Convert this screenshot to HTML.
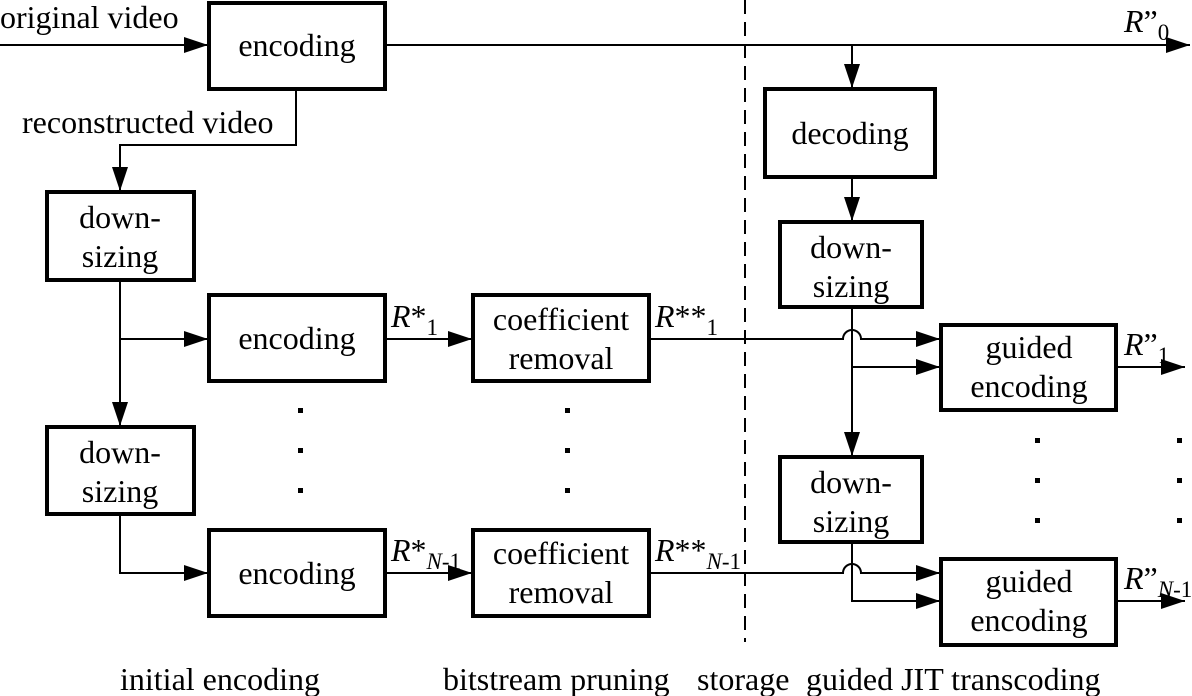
<!DOCTYPE html>
<html><head><meta charset="utf-8"><style>
html,body{margin:0;padding:0;background:#fff;}
svg{display:block;}
text{font-family:"Liberation Serif",serif;font-size:32px;fill:#000;}
.i{font-style:italic;}
.s{font-size:23px;}
</style></head><body>
<svg width="1192" height="696" viewBox="0 0 1192 696" xmlns="http://www.w3.org/2000/svg">
<defs><marker id="a" markerWidth="24" markerHeight="16" refX="24" refY="8" orient="auto" markerUnits="userSpaceOnUse"><path d="M0,0 L24,8 L0,16 Z" fill="#000"/></marker></defs>
<g fill="none" stroke="#000" stroke-width="4">
<rect x="209" y="3" width="176" height="86"/>
<rect x="765" y="89" width="170" height="88"/>
<rect x="780" y="222" width="142" height="85"/>
<rect x="780" y="457" width="142" height="85"/>
<rect x="941" y="325" width="175" height="85"/>
<rect x="941" y="559" width="175" height="86"/>
<rect x="47" y="192" width="147" height="88"/>
<rect x="47" y="427" width="147" height="87"/>
<rect x="209" y="295" width="176" height="86"/>
<rect x="209" y="530" width="176" height="86"/>
<rect x="473" y="295" width="176" height="86"/>
<rect x="473" y="530" width="176" height="86"/>
</g>
<g fill="none" stroke="#000" stroke-width="2">
<line x1="0" y1="45" x2="208" y2="45" marker-end="url(#a)"/>
<line x1="386" y1="45" x2="1190" y2="45" marker-end="url(#a)"/>
<line x1="852" y1="45" x2="852" y2="88" marker-end="url(#a)"/>
<line x1="852" y1="178" x2="852" y2="221" marker-end="url(#a)"/>
<polyline points="296,90 296,145 120,145 120,191" marker-end="url(#a)"/>
<line x1="120" y1="281" x2="120" y2="426" marker-end="url(#a)"/>
<line x1="120" y1="339" x2="208" y2="339" marker-end="url(#a)"/>
<polyline points="120,515 120,573 208,573" marker-end="url(#a)"/>
<line x1="386" y1="339" x2="472" y2="339" marker-end="url(#a)"/>
<line x1="386" y1="573" x2="472" y2="573" marker-end="url(#a)"/>
<path d="M650,339 H843 A9,9 0 0 1 861,339 H940" marker-end="url(#a)"/>
<path d="M650,573 H843 A9,9 0 0 1 861,573 H940" marker-end="url(#a)"/>
<line x1="852" y1="308" x2="852" y2="456" marker-end="url(#a)"/>
<line x1="852" y1="367" x2="940" y2="367" marker-end="url(#a)"/>
<polyline points="852,543 852,601 940,601" marker-end="url(#a)"/>
<line x1="1117" y1="367" x2="1185" y2="367" marker-end="url(#a)"/>
<line x1="1117" y1="601" x2="1185" y2="601" marker-end="url(#a)"/>
<line x1="745" y1="0" x2="745" y2="642" stroke-dasharray="14,8"/>
</g>
<g fill="#000">
<rect x="298" y="408" width="5" height="5"/><rect x="298" y="448" width="5" height="5"/><rect x="298" y="488" width="5" height="5"/>
<rect x="565" y="408" width="5" height="5"/><rect x="565" y="448" width="5" height="5"/><rect x="565" y="488" width="5" height="5"/>
<rect x="1035" y="438" width="5" height="5"/><rect x="1035" y="478" width="5" height="5"/><rect x="1035" y="518" width="5" height="5"/>
<rect x="1177" y="438" width="5" height="5"/><rect x="1177" y="478" width="5" height="5"/><rect x="1177" y="518" width="5" height="5"/>
</g>
<g text-anchor="middle">
<text x="297" y="56">encoding</text>
<text x="850" y="144">decoding</text>
<text x="851" y="258">down-</text><text x="851" y="297">sizing</text>
<text x="851" y="493">down-</text><text x="851" y="532">sizing</text>
<text x="120" y="228">down-</text><text x="120" y="267">sizing</text>
<text x="120" y="463">down-</text><text x="120" y="502">sizing</text>
<text x="297" y="349">encoding</text>
<text x="297" y="584">encoding</text>
<text x="561" y="330">coefficient</text><text x="561" y="369">removal</text>
<text x="561" y="564">coefficient</text><text x="561" y="603">removal</text>
<text x="1029" y="358">guided</text><text x="1029" y="397">encoding</text>
<text x="1029" y="592">guided</text><text x="1029" y="631">encoding</text>
</g>
<text x="0" y="28">original video</text>
<text x="22" y="133">reconstructed video</text>
<text x="120" y="690">initial encoding</text>
<text x="443" y="690">bitstream pruning</text>
<text x="697" y="690">storage</text>
<text x="806" y="690">guided JIT transcoding</text>
<text x="1124" y="32"><tspan class="i">R</tspan>”<tspan class="s" dy="8">0</tspan></text>
<text x="391" y="327"><tspan class="i">R</tspan>*<tspan class="s" dy="8">1</tspan></text>
<text x="391" y="561"><tspan class="i">R</tspan>*<tspan class="s i" dy="8">N</tspan><tspan class="s" >-1</tspan></text>
<text x="655" y="327"><tspan class="i">R</tspan>**<tspan class="s" dy="8">1</tspan></text>
<text x="655" y="561"><tspan class="i">R</tspan>**<tspan class="s i" dy="8">N</tspan><tspan class="s">-1</tspan></text>
<text x="1124" y="355"><tspan class="i">R</tspan>”<tspan class="s" dy="8">1</tspan></text>
<text x="1124" y="589"><tspan class="i">R</tspan>”<tspan class="s i" dy="8">N</tspan><tspan class="s">-1</tspan></text>
</svg>
</body></html>
